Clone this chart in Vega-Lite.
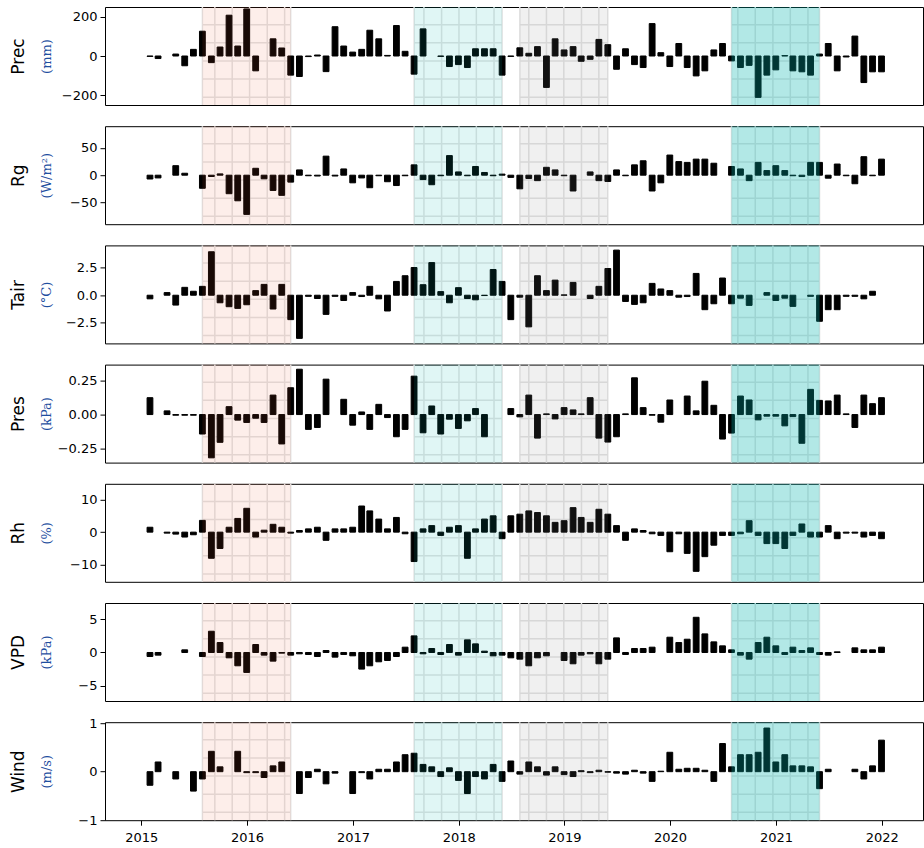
{
"$schema": "https://vega.github.io/schema/vega-lite/v6.json",
"padding": {"left": 8, "top": 5, "right": 0, "bottom": 0},
"spacing": 21.2,
"bounds": "flush",
"datasets": {
"regions": [
{"region": "A", "start": "2015-07-31", "end": "2016-05-31"},
{"region": "B", "start": "2017-07-31", "end": "2018-05-31"},
{"region": "C", "start": "2018-07-31", "end": "2019-05-31"},
{"region": "D", "start": "2020-07-31", "end": "2021-05-31"}
],
"hatchV": [
{"date": "2015-09-12"}, {"date": "2015-11-11"}, {"date": "2016-01-10"}, {"date": "2016-03-11"}, {"date": "2016-05-10"},
{"date": "2017-09-03"}, {"date": "2017-11-03"}, {"date": "2018-01-02"}, {"date": "2018-03-03"}, {"date": "2018-05-03"},
{"date": "2018-08-31"}, {"date": "2018-10-31"}, {"date": "2018-12-30"}, {"date": "2019-03-01"}, {"date": "2019-04-30"},
{"date": "2020-08-22"}, {"date": "2020-10-21"}, {"date": "2020-12-21"}, {"date": "2021-02-19"}, {"date": "2021-04-21"}
],
"hatchH": [
{"region": "A", "h": 0.08}, {"region": "A", "h": 0.265}, {"region": "A", "h": 0.45}, {"region": "A", "h": 0.635}, {"region": "A", "h": 0.82},
{"region": "B", "h": 0.08}, {"region": "B", "h": 0.265}, {"region": "B", "h": 0.45}, {"region": "B", "h": 0.635}, {"region": "B", "h": 0.82},
{"region": "C", "h": 0.08}, {"region": "C", "h": 0.265}, {"region": "C", "h": 0.45}, {"region": "C", "h": 0.635}, {"region": "C", "h": 0.82},
{"region": "D", "h": 0.08}, {"region": "D", "h": 0.265}, {"region": "D", "h": 0.45}, {"region": "D", "h": 0.635}, {"region": "D", "h": 0.82}
],
"Prec": [
{"date":"2015-01-31","value":-2},{"date":"2015-02-28","value":-13},{"date":"2015-04-30","value":10},{"date":"2015-05-31","value":-50},{"date":"2015-06-30","value":34},{"date":"2015-07-31","value":127},{"date":"2015-08-31","value":-34},{"date":"2015-09-30","value":46},{"date":"2015-10-31","value":209},{"date":"2015-11-30","value":51},{"date":"2015-12-31","value":241},
{"date":"2016-01-31","value":-76},{"date":"2016-03-31","value":88},{"date":"2016-04-30","value":41},{"date":"2016-05-31","value":-98},{"date":"2016-06-30","value":-105},{"date":"2016-07-31","value":-3},{"date":"2016-08-31","value":5},{"date":"2016-09-30","value":-80},{"date":"2016-10-31","value":150},{"date":"2016-11-30","value":51},{"date":"2016-12-31","value":20},
{"date":"2017-01-31","value":34},{"date":"2017-02-28","value":132},{"date":"2017-03-31","value":88},{"date":"2017-04-30","value":3},{"date":"2017-05-31","value":156},{"date":"2017-06-30","value":24},{"date":"2017-07-31","value":-93},{"date":"2017-08-31","value":139},{"date":"2017-10-31","value":-2},{"date":"2017-11-30","value":-54},{"date":"2017-12-31","value":-44},
{"date":"2018-01-31","value":-59},{"date":"2018-02-28","value":37},{"date":"2018-03-31","value":37},{"date":"2018-04-30","value":37},{"date":"2018-05-31","value":-98},{"date":"2018-06-30","value":-2},{"date":"2018-07-31","value":42},{"date":"2018-08-31","value":14},{"date":"2018-09-30","value":48},{"date":"2018-10-31","value":-161},{"date":"2018-11-30","value":88},{"date":"2018-12-31","value":31},
{"date":"2019-01-31","value":48},{"date":"2019-02-28","value":-27},{"date":"2019-03-31","value":-17},{"date":"2019-04-30","value":85},{"date":"2019-05-31","value":58},{"date":"2019-06-30","value":-68},{"date":"2019-07-31","value":37},{"date":"2019-08-31","value":-44},{"date":"2019-09-30","value":-59},{"date":"2019-10-31","value":166},{"date":"2019-11-30","value":17},{"date":"2019-12-31","value":-54},
{"date":"2020-01-31","value":64},{"date":"2020-02-29","value":-59},{"date":"2020-03-31","value":-102},{"date":"2020-04-30","value":-76},{"date":"2020-05-31","value":31},{"date":"2020-06-30","value":64},{"date":"2020-07-31","value":-25},{"date":"2020-08-31","value":-59},{"date":"2020-09-30","value":-48},{"date":"2020-10-31","value":-212},{"date":"2020-11-30","value":-98},{"date":"2020-12-31","value":-71},
{"date":"2021-01-31","value":2},{"date":"2021-02-28","value":-76},{"date":"2021-03-31","value":-81},{"date":"2021-04-30","value":-98},{"date":"2021-05-31","value":10},{"date":"2021-06-30","value":64},{"date":"2021-07-31","value":-76},{"date":"2021-08-31","value":-5},{"date":"2021-09-30","value":102},{"date":"2021-10-31","value":-136},{"date":"2021-11-30","value":-81},{"date":"2021-12-31","value":-81}
],
"Rg": [
{"date":"2015-01-31","value":-7},{"date":"2015-02-28","value":-5},{"date":"2015-04-30","value":17.5},{"date":"2015-05-31","value":3.6},{"date":"2015-07-31","value":-24},{"date":"2015-08-31","value":-2.4},{"date":"2015-09-30","value":2.4},{"date":"2015-10-31","value":-34},{"date":"2015-11-30","value":-47},{"date":"2015-12-31","value":-72},
{"date":"2016-01-31","value":12.7},{"date":"2016-02-29","value":-6.6},{"date":"2016-03-31","value":-28},{"date":"2016-04-30","value":-37},{"date":"2016-05-31","value":-12.7},{"date":"2016-06-30","value":9.7},{"date":"2016-07-31","value":-1},{"date":"2016-08-31","value":-1.5},{"date":"2016-09-30","value":35},{"date":"2016-10-31","value":-1.5},{"date":"2016-11-30","value":11.5},{"date":"2016-12-31","value":-14},
{"date":"2017-01-31","value":-5},{"date":"2017-02-28","value":-23},{"date":"2017-03-31","value":-1},{"date":"2017-04-30","value":-12},{"date":"2017-05-31","value":-19},{"date":"2017-06-30","value":-1},{"date":"2017-07-31","value":19},{"date":"2017-08-31","value":-8},{"date":"2017-09-30","value":-17.5},{"date":"2017-10-31","value":-1},{"date":"2017-11-30","value":36},{"date":"2017-12-31","value":6},
{"date":"2018-01-31","value":-1},{"date":"2018-02-28","value":16},{"date":"2018-03-31","value":5},{"date":"2018-04-30","value":-1},{"date":"2018-05-31","value":2},{"date":"2018-06-30","value":-4},{"date":"2018-07-31","value":-25},{"date":"2018-08-31","value":-6},{"date":"2018-09-30","value":-10},{"date":"2018-10-31","value":14.5},{"date":"2018-11-30","value":9.7},{"date":"2018-12-31","value":-1},
{"date":"2019-01-31","value":-29},{"date":"2019-03-31","value":6},{"date":"2019-04-30","value":-10},{"date":"2019-05-31","value":-11.5},{"date":"2019-06-30","value":9.7},{"date":"2019-07-31","value":-1},{"date":"2019-08-31","value":19},{"date":"2019-09-30","value":26.5},{"date":"2019-10-31","value":-29},{"date":"2019-11-30","value":-14},{"date":"2019-12-31","value":37},
{"date":"2020-01-31","value":25},{"date":"2020-02-29","value":23.5},{"date":"2020-03-31","value":29.5},{"date":"2020-04-30","value":29.5},{"date":"2020-05-31","value":22},{"date":"2020-07-31","value":16},{"date":"2020-08-31","value":11.5},{"date":"2020-09-30","value":-10},{"date":"2020-10-31","value":23.5},{"date":"2020-11-30","value":8.5},{"date":"2020-12-31","value":17.5},
{"date":"2021-01-31","value":8.5},{"date":"2021-02-28","value":-1},{"date":"2021-03-31","value":-2.5},{"date":"2021-04-30","value":23.5},{"date":"2021-05-31","value":23.5},{"date":"2021-06-30","value":-5.5},{"date":"2021-07-31","value":20.5},{"date":"2021-08-31","value":-1},{"date":"2021-09-30","value":-15.7},{"date":"2021-10-31","value":34},{"date":"2021-11-30","value":-1},{"date":"2021-12-31","value":29.5}
],
"Tair": [
{"date":"2015-01-31","value":-0.33},{"date":"2015-03-31","value":0.24},{"date":"2015-04-30","value":-0.9},{"date":"2015-05-31","value":0.72},{"date":"2015-06-30","value":0.36},{"date":"2015-07-31","value":0.81},{"date":"2015-08-31","value":3.97},{"date":"2015-09-30","value":-0.69},{"date":"2015-10-31","value":-1.05},{"date":"2015-11-30","value":-1.2},{"date":"2015-12-31","value":-0.87},
{"date":"2016-01-31","value":0.42},{"date":"2016-02-29","value":0.99},{"date":"2016-03-31","value":-1.26},{"date":"2016-04-30","value":0.99},{"date":"2016-05-31","value":-2.23},{"date":"2016-06-30","value":-3.94},{"date":"2016-07-31","value":-0.1},{"date":"2016-08-31","value":-0.3},{"date":"2016-09-30","value":-1.75},{"date":"2016-10-31","value":-0.1},{"date":"2016-11-30","value":-0.48},{"date":"2016-12-31","value":0.24},
{"date":"2017-01-31","value":-0.12},{"date":"2017-02-28","value":0.81},{"date":"2017-03-31","value":-0.33},{"date":"2017-04-30","value":-1.44},{"date":"2017-05-31","value":1.26},{"date":"2017-06-30","value":1.78},{"date":"2017-07-31","value":2.53},{"date":"2017-08-31","value":0.96},{"date":"2017-09-30","value":2.98},{"date":"2017-10-31","value":0.33},{"date":"2017-11-30","value":-0.69},{"date":"2017-12-31","value":0.69},
{"date":"2018-01-31","value":-0.3},{"date":"2018-02-28","value":-0.42},{"date":"2018-03-31","value":-0.03},{"date":"2018-04-30","value":2.35},{"date":"2018-05-31","value":1.26},{"date":"2018-06-30","value":-2.23},{"date":"2018-07-31","value":-0.18},{"date":"2018-08-31","value":-2.89},{"date":"2018-09-30","value":1.78},{"date":"2018-10-31","value":0.42},{"date":"2018-11-30","value":1.38},{"date":"2018-12-31","value":0.03},
{"date":"2019-01-31","value":1.17},{"date":"2019-03-31","value":-0.3},{"date":"2019-04-30","value":0.81},{"date":"2019-05-31","value":2.44},{"date":"2019-06-30","value":4.12},{"date":"2019-07-31","value":-0.57},{"date":"2019-08-31","value":-0.84},{"date":"2019-09-30","value":-0.69},{"date":"2019-10-31","value":1.08},{"date":"2019-11-30","value":0.57},{"date":"2019-12-31","value":0.42},
{"date":"2020-01-31","value":-0.18},{"date":"2020-02-29","value":-0.12},{"date":"2020-03-31","value":1.99},{"date":"2020-04-30","value":-1.32},{"date":"2020-05-31","value":-0.78},{"date":"2020-06-30","value":1.57},{"date":"2020-07-31","value":-0.78},{"date":"2020-08-31","value":-0.27},{"date":"2020-09-30","value":-0.93},{"date":"2020-11-30","value":0.24},{"date":"2020-12-31","value":-0.48},
{"date":"2021-01-31","value":-0.27},{"date":"2021-02-28","value":-1.02},{"date":"2021-04-30","value":-0.1},{"date":"2021-05-31","value":-2.38},{"date":"2021-06-30","value":-1.32},{"date":"2021-07-31","value":-1.32},{"date":"2021-08-31","value":-0.1},{"date":"2021-09-30","value":-0.1},{"date":"2021-10-31","value":-0.33},{"date":"2021-11-30","value":0.36}
],
"Pres": [
{"date":"2015-01-31","value":0.124},{"date":"2015-03-31","value":0.027},{"date":"2015-04-30","value":-0.005},{"date":"2015-05-31","value":-0.005},{"date":"2015-06-30","value":-0.005},{"date":"2015-07-31","value":-0.143},{"date":"2015-08-31","value":-0.318},{"date":"2015-09-30","value":-0.204},{"date":"2015-10-31","value":0.058},{"date":"2015-11-30","value":-0.041},{"date":"2015-12-31","value":-0.058},
{"date":"2016-01-31","value":-0.027},{"date":"2016-02-29","value":-0.058},{"date":"2016-03-31","value":0.143},{"date":"2016-04-30","value":-0.216},{"date":"2016-05-31","value":0.197},{"date":"2016-06-30","value":0.333},{"date":"2016-07-31","value":-0.109},{"date":"2016-08-31","value":-0.095},{"date":"2016-09-30","value":0.26},{"date":"2016-11-30","value":0.112},{"date":"2016-12-31","value":-0.078},
{"date":"2017-01-31","value":0.019},{"date":"2017-02-28","value":-0.109},{"date":"2017-03-31","value":0.075},{"date":"2017-04-30","value":-0.022},{"date":"2017-05-31","value":-0.163},{"date":"2017-06-30","value":-0.109},{"date":"2017-07-31","value":0.282},{"date":"2017-08-31","value":-0.134},{"date":"2017-09-30","value":0.063},{"date":"2017-10-31","value":-0.143},{"date":"2017-11-30","value":-0.034},{"date":"2017-12-31","value":-0.102},
{"date":"2018-01-31","value":-0.046},{"date":"2018-02-28","value":0.044},{"date":"2018-03-31","value":-0.163},{"date":"2018-06-30","value":0.044},{"date":"2018-07-31","value":-0.017},{"date":"2018-08-31","value":0.143},{"date":"2018-09-30","value":-0.173},{"date":"2018-10-31","value":0.005},{"date":"2018-11-30","value":-0.032},{"date":"2018-12-31","value":0.051},
{"date":"2019-01-31","value":0.034},{"date":"2019-02-28","value":0.005},{"date":"2019-03-31","value":0.124},{"date":"2019-04-30","value":-0.173},{"date":"2019-05-31","value":-0.202},{"date":"2019-06-30","value":-0.163},{"date":"2019-07-31","value":0.005},{"date":"2019-08-31","value":0.27},{"date":"2019-09-30","value":0.051},{"date":"2019-10-31","value":-0.005},{"date":"2019-11-30","value":-0.056},{"date":"2019-12-31","value":0.107},
{"date":"2020-02-29","value":0.136},{"date":"2020-03-31","value":0.027},{"date":"2020-04-30","value":0.245},{"date":"2020-05-31","value":0.068},{"date":"2020-06-30","value":-0.18},{"date":"2020-07-31","value":-0.136},{"date":"2020-08-31","value":0.136},{"date":"2020-09-30","value":0.107},{"date":"2020-10-31","value":-0.039},{"date":"2020-11-30","value":-0.012},{"date":"2020-12-31","value":-0.012},
{"date":"2021-01-31","value":-0.083},{"date":"2021-02-28","value":-0.015},{"date":"2021-03-31","value":-0.211},{"date":"2021-04-30","value":0.185},{"date":"2021-05-31","value":0.104},{"date":"2021-06-30","value":0.1},{"date":"2021-07-31","value":0.143},{"date":"2021-08-31","value":0.005},{"date":"2021-09-30","value":-0.095},{"date":"2021-10-31","value":0.143},{"date":"2021-11-30","value":0.08},{"date":"2021-12-31","value":0.124}
],
"Rh": [
{"date":"2015-01-31","value":1.5},{"date":"2015-03-31","value":-0.3},{"date":"2015-04-30","value":-0.6},{"date":"2015-05-31","value":-1.5},{"date":"2015-06-30","value":-0.8},{"date":"2015-07-31","value":3.6},{"date":"2015-08-31","value":-8},{"date":"2015-09-30","value":-5},{"date":"2015-10-31","value":1.5},{"date":"2015-11-30","value":4.2},{"date":"2015-12-31","value":7.3},
{"date":"2016-01-31","value":-1.5},{"date":"2016-02-29","value":0.6},{"date":"2016-03-31","value":2.4},{"date":"2016-04-30","value":1.5},{"date":"2016-05-31","value":-0.3},{"date":"2016-06-30","value":0.5},{"date":"2016-07-31","value":1},{"date":"2016-08-31","value":1.5},{"date":"2016-09-30","value":-2.5},{"date":"2016-10-31","value":1},{"date":"2016-11-30","value":1},{"date":"2016-12-31","value":1.5},
{"date":"2017-01-31","value":8},{"date":"2017-02-28","value":6.5},{"date":"2017-03-31","value":4},{"date":"2017-04-30","value":1},{"date":"2017-05-31","value":4.5},{"date":"2017-06-30","value":-0.5},{"date":"2017-07-31","value":-9},{"date":"2017-08-31","value":1},{"date":"2017-09-30","value":2},{"date":"2017-10-31","value":-1},{"date":"2017-11-30","value":1.5},{"date":"2017-12-31","value":2},
{"date":"2018-01-31","value":-8},{"date":"2018-02-28","value":1},{"date":"2018-03-31","value":4},{"date":"2018-04-30","value":5},{"date":"2018-05-31","value":-2},{"date":"2018-06-30","value":5},{"date":"2018-07-31","value":5.5},{"date":"2018-08-31","value":6.5},{"date":"2018-09-30","value":6},{"date":"2018-10-31","value":5},{"date":"2018-11-30","value":3},{"date":"2018-12-31","value":3.5},
{"date":"2019-01-31","value":7.5},{"date":"2019-02-28","value":4.5},{"date":"2019-03-31","value":3},{"date":"2019-04-30","value":7},{"date":"2019-05-31","value":5.5},{"date":"2019-06-30","value":2},{"date":"2019-07-31","value":-2.5},{"date":"2019-08-31","value":1},{"date":"2019-09-30","value":0.5},{"date":"2019-10-31","value":-0.5},{"date":"2019-11-30","value":-1},{"date":"2019-12-31","value":-6},
{"date":"2020-01-31","value":-0.5},{"date":"2020-02-29","value":-6.5},{"date":"2020-03-31","value":-12},{"date":"2020-04-30","value":-7.5},{"date":"2020-05-31","value":-4},{"date":"2020-06-30","value":-1},{"date":"2020-07-31","value":-1},{"date":"2020-08-31","value":-0.5},{"date":"2020-09-30","value":3.5},{"date":"2020-10-31","value":-1},{"date":"2020-11-30","value":-3.5},{"date":"2020-12-31","value":-3.5},
{"date":"2021-01-31","value":-5},{"date":"2021-02-28","value":-1},{"date":"2021-03-31","value":2.5},{"date":"2021-04-30","value":-1.5},{"date":"2021-05-31","value":-1.5},{"date":"2021-06-30","value":2},{"date":"2021-07-31","value":-2},{"date":"2021-08-31","value":-0.3},{"date":"2021-09-30","value":-0.3},{"date":"2021-10-31","value":-1.5},{"date":"2021-11-30","value":-1},{"date":"2021-12-31","value":-2}
],
"VPD": [
{"date":"2015-01-31","value":-0.6},{"date":"2015-02-28","value":-0.4},{"date":"2015-05-31","value":0.4},{"date":"2015-07-31","value":-0.6},{"date":"2015-08-31","value":3.2},{"date":"2015-09-30","value":1.5},{"date":"2015-10-31","value":-0.8},{"date":"2015-11-30","value":-2},{"date":"2015-12-31","value":-3},
{"date":"2016-01-31","value":1.2},{"date":"2016-02-29","value":-0.4},{"date":"2016-03-31","value":-1.3},{"date":"2016-04-30","value":-0.1},{"date":"2016-05-31","value":-0.4},{"date":"2016-06-30","value":-0.2},{"date":"2016-07-31","value":-0.3},{"date":"2016-08-31","value":-0.6},{"date":"2016-09-30","value":0.3},{"date":"2016-10-31","value":-0.7},{"date":"2016-11-30","value":-0.3},{"date":"2016-12-31","value":-0.5},
{"date":"2017-01-31","value":-2.5},{"date":"2017-02-28","value":-2},{"date":"2017-03-31","value":-1.4},{"date":"2017-04-30","value":-1.2},{"date":"2017-05-31","value":-0.6},{"date":"2017-06-30","value":0.8},{"date":"2017-07-31","value":2.5},{"date":"2017-08-31","value":-0.2},{"date":"2017-09-30","value":0.6},{"date":"2017-10-31","value":-0.3},{"date":"2017-11-30","value":1.2},{"date":"2017-12-31","value":-0.4},
{"date":"2018-01-31","value":1.9},{"date":"2018-02-28","value":1.3},{"date":"2018-03-31","value":0.2},{"date":"2018-04-30","value":-0.5},{"date":"2018-05-31","value":-0.4},{"date":"2018-06-30","value":-0.8},{"date":"2018-07-31","value":-1},{"date":"2018-08-31","value":-2},{"date":"2018-09-30","value":-0.8},{"date":"2018-10-31","value":-0.5},{"date":"2018-12-31","value":-1.2},
{"date":"2019-01-31","value":-1.7},{"date":"2019-02-28","value":-0.4},{"date":"2019-03-31","value":-0.2},{"date":"2019-04-30","value":-1.7},{"date":"2019-05-31","value":-1},{"date":"2019-06-30","value":2.2},{"date":"2019-07-31","value":-0.3},{"date":"2019-08-31","value":0.6},{"date":"2019-09-30","value":0.6},{"date":"2019-10-31","value":0.8},{"date":"2019-12-31","value":2.3},
{"date":"2020-01-31","value":1.5},{"date":"2020-02-29","value":2},{"date":"2020-03-31","value":5.3},{"date":"2020-04-30","value":2.8},{"date":"2020-05-31","value":1.6},{"date":"2020-06-30","value":1},{"date":"2020-07-31","value":0.4},{"date":"2020-08-31","value":-0.4},{"date":"2020-09-30","value":-1},{"date":"2020-10-31","value":1.5},{"date":"2020-11-30","value":2.3},{"date":"2020-12-31","value":1},
{"date":"2021-01-31","value":-0.3},{"date":"2021-02-28","value":0.8},{"date":"2021-03-31","value":0.3},{"date":"2021-04-30","value":0.7},{"date":"2021-05-31","value":-0.3},{"date":"2021-06-30","value":-0.4},{"date":"2021-07-31","value":0.1},{"date":"2021-09-30","value":0.7},{"date":"2021-10-31","value":0.4},{"date":"2021-11-30","value":0.4},{"date":"2021-12-31","value":0.8}
],
"Wind": [
{"date":"2015-01-31","value":-0.28},{"date":"2015-02-28","value":0.2},{"date":"2015-04-30","value":-0.15},{"date":"2015-06-30","value":-0.4},{"date":"2015-07-31","value":-0.15},{"date":"2015-08-31","value":0.42},{"date":"2015-09-30","value":0.1},{"date":"2015-11-30","value":0.42},{"date":"2015-12-31","value":-0.02},
{"date":"2016-01-31","value":-0.02},{"date":"2016-02-29","value":-0.12},{"date":"2016-03-31","value":0.12},{"date":"2016-04-30","value":0.2},{"date":"2016-06-30","value":-0.45},{"date":"2016-07-31","value":-0.12},{"date":"2016-08-31","value":0.05},{"date":"2016-09-30","value":-0.25},{"date":"2016-10-31","value":-0.03},{"date":"2016-12-31","value":-0.45},
{"date":"2017-01-31","value":-0.02},{"date":"2017-02-28","value":-0.15},{"date":"2017-03-31","value":0.05},{"date":"2017-04-30","value":0.05},{"date":"2017-05-31","value":0.2},{"date":"2017-06-30","value":0.35},{"date":"2017-07-31","value":0.38},{"date":"2017-08-31","value":0.15},{"date":"2017-09-30","value":0.1},{"date":"2017-10-31","value":-0.1},{"date":"2017-11-30","value":0.08},{"date":"2017-12-31","value":-0.18},
{"date":"2018-01-31","value":-0.45},{"date":"2018-02-28","value":-0.1},{"date":"2018-03-31","value":-0.15},{"date":"2018-04-30","value":0.15},{"date":"2018-05-31","value":-0.2},{"date":"2018-06-30","value":0.22},{"date":"2018-07-31","value":-0.05},{"date":"2018-08-31","value":0.2},{"date":"2018-09-30","value":0.1},{"date":"2018-10-31","value":-0.07},{"date":"2018-11-30","value":0.1},{"date":"2018-12-31","value":-0.06},
{"date":"2019-01-31","value":-0.1},{"date":"2019-02-28","value":0.02},{"date":"2019-03-31","value":-0.02},{"date":"2019-04-30","value":0.03},{"date":"2019-05-31","value":-0.01},{"date":"2019-06-30","value":-0.03},{"date":"2019-07-31","value":-0.05},{"date":"2019-08-31","value":0.03},{"date":"2019-09-30","value":-0.03},{"date":"2019-10-31","value":-0.2},{"date":"2019-11-30","value":0.01},{"date":"2019-12-31","value":0.4},
{"date":"2020-01-31","value":0.05},{"date":"2020-02-29","value":0.07},{"date":"2020-03-31","value":0.07},{"date":"2020-04-30","value":0.03},{"date":"2020-05-31","value":-0.2},{"date":"2020-06-30","value":0.58},{"date":"2020-07-31","value":0.1},{"date":"2020-08-31","value":0.35},{"date":"2020-09-30","value":0.35},{"date":"2020-10-31","value":0.4},{"date":"2020-11-30","value":0.9},{"date":"2020-12-31","value":0.2},
{"date":"2021-01-31","value":0.35},{"date":"2021-02-28","value":0.12},{"date":"2021-03-31","value":0.12},{"date":"2021-04-30","value":0.1},{"date":"2021-05-31","value":-0.35},{"date":"2021-06-30","value":0.05},{"date":"2021-09-30","value":0.05},{"date":"2021-10-31","value":-0.15},{"date":"2021-11-30","value":0.12},{"date":"2021-12-31","value":0.65}
]
},
"vconcat": [
{"width": 818, "height": 98, "resolve": {"scale": {"y": "independent"}},
"layer": [
{"data": {"name": "hatchV"}, "mark": {"type": "rule", "color": "#e3e3e3", "strokeWidth": 1.5}, "encoding": {"x": {"field": "date", "type": "temporal", "scale": {"domain": [{"year": 2014, "month": 9, "date": 15}, {"year": 2022, "month": 5, "date": 6}], "nice": false}, "axis": null}}},
{"data": {"name": "regions"}, "mark": {"type": "rule", "color": "#e3e3e3", "strokeWidth": 1.5}, "encoding": {"x": {"field": "start", "type": "temporal", "scale": {"domain": [{"year": 2014, "month": 9, "date": 15}, {"year": 2022, "month": 5, "date": 6}], "nice": false}, "axis": null}}},
{"data": {"name": "regions"}, "mark": {"type": "rule", "color": "#e3e3e3", "strokeWidth": 1.5}, "encoding": {"x": {"field": "end", "type": "temporal", "scale": {"domain": [{"year": 2014, "month": 9, "date": 15}, {"year": 2022, "month": 5, "date": 6}], "nice": false}, "axis": null}}},
{"data": {"name": "hatchH"}, "transform": [{"lookup": "region", "from": {"data": {"name": "regions"}, "key": "region", "fields": ["start", "end"]}}], "mark": {"type": "rule", "color": "#e3e3e3", "strokeWidth": 1.5}, "encoding": {"x": {"field": "start", "type": "temporal", "scale": {"domain": [{"year": 2014, "month": 9, "date": 15}, {"year": 2022, "month": 5, "date": 6}], "nice": false}, "axis": null}, "x2": {"field": "end"}, "y": {"field": "h", "type": "quantitative", "scale": {"domain": [0, 1], "nice": false}, "axis": {"orient": "left", "title": "Prec", "labels": false, "ticks": false, "domain": false, "titleFont": "DejaVu Sans", "titleFontSize": 17, "titleFontWeight": "normal", "titleColor": "#000", "titleX": -87, "titleY": 49, "titleAngle": -90, "titleAlign": "center", "titleBaseline": "middle"}}}},
{"data": {"name": "Prec"}, "mark": {"type": "bar", "size": 5.8, "color": "#000", "stroke": "#000", "strokeWidth": 1}, "encoding": {"x": {"field": "date", "type": "temporal", "scale": {"domain": [{"year": 2014, "month": 9, "date": 15}, {"year": 2022, "month": 5, "date": 6}], "nice": false}, "axis": null}, "y": {"field": "value", "type": "quantitative", "scale": {"domain": [-251, 251], "nice": false}, "axis": {"orient": "left", "values": [-200, 0, 200], "title": "(mm)", "titleFont": "DejaVu Serif", "titleFontSize": 13, "titleFontWeight": "normal", "titleColor": "#1f4f9f", "titleX": -59, "titleY": 49, "titleAngle": -90, "titleAlign": "center", "titleBaseline": "middle"}}}},
{"data": {"name": "regions"}, "mark": {"type": "rect"}, "encoding": {"x": {"field": "start", "type": "temporal", "scale": {"domain": [{"year": 2014, "month": 9, "date": 15}, {"year": 2022, "month": 5, "date": 6}], "nice": false}, "axis": null}, "x2": {"field": "end"}, "color": {"field": "region", "type": "nominal", "scale": {"domain": ["A", "B", "C", "D"], "range": ["rgba(235,85,45,0.1)", "rgba(0,180,173,0.12)", "rgba(128,128,128,0.12)", "rgba(0,180,173,0.3)"]}, "legend": null}}}
]},
{"width": 818, "height": 98, "resolve": {"scale": {"y": "independent"}},
"layer": [
{"data": {"name": "hatchV"}, "mark": {"type": "rule", "color": "#e3e3e3", "strokeWidth": 1.5}, "encoding": {"x": {"field": "date", "type": "temporal", "scale": {"domain": [{"year": 2014, "month": 9, "date": 15}, {"year": 2022, "month": 5, "date": 6}], "nice": false}, "axis": null}}},
{"data": {"name": "regions"}, "mark": {"type": "rule", "color": "#e3e3e3", "strokeWidth": 1.5}, "encoding": {"x": {"field": "start", "type": "temporal", "scale": {"domain": [{"year": 2014, "month": 9, "date": 15}, {"year": 2022, "month": 5, "date": 6}], "nice": false}, "axis": null}}},
{"data": {"name": "regions"}, "mark": {"type": "rule", "color": "#e3e3e3", "strokeWidth": 1.5}, "encoding": {"x": {"field": "end", "type": "temporal", "scale": {"domain": [{"year": 2014, "month": 9, "date": 15}, {"year": 2022, "month": 5, "date": 6}], "nice": false}, "axis": null}}},
{"data": {"name": "hatchH"}, "transform": [{"lookup": "region", "from": {"data": {"name": "regions"}, "key": "region", "fields": ["start", "end"]}}], "mark": {"type": "rule", "color": "#e3e3e3", "strokeWidth": 1.5}, "encoding": {"x": {"field": "start", "type": "temporal", "scale": {"domain": [{"year": 2014, "month": 9, "date": 15}, {"year": 2022, "month": 5, "date": 6}], "nice": false}, "axis": null}, "x2": {"field": "end"}, "y": {"field": "h", "type": "quantitative", "scale": {"domain": [0, 1], "nice": false}, "axis": {"orient": "left", "title": "Rg", "labels": false, "ticks": false, "domain": false, "titleFont": "DejaVu Sans", "titleFontSize": 17, "titleFontWeight": "normal", "titleColor": "#000", "titleX": -87, "titleY": 49, "titleAngle": -90, "titleAlign": "center", "titleBaseline": "middle"}}}},
{"data": {"name": "Rg"}, "mark": {"type": "bar", "size": 5.8, "color": "#000", "stroke": "#000", "strokeWidth": 1}, "encoding": {"x": {"field": "date", "type": "temporal", "scale": {"domain": [{"year": 2014, "month": 9, "date": 15}, {"year": 2022, "month": 5, "date": 6}], "nice": false}, "axis": null}, "y": {"field": "value", "type": "quantitative", "scale": {"domain": [-90, 90], "nice": false}, "axis": {"orient": "left", "values": [-50, 0, 50], "title": "(W/m²)", "titleFont": "DejaVu Serif", "titleFontSize": 13, "titleFontWeight": "normal", "titleColor": "#1f4f9f", "titleX": -59, "titleY": 49, "titleAngle": -90, "titleAlign": "center", "titleBaseline": "middle"}}}},
{"data": {"name": "regions"}, "mark": {"type": "rect"}, "encoding": {"x": {"field": "start", "type": "temporal", "scale": {"domain": [{"year": 2014, "month": 9, "date": 15}, {"year": 2022, "month": 5, "date": 6}], "nice": false}, "axis": null}, "x2": {"field": "end"}, "color": {"field": "region", "type": "nominal", "scale": {"domain": ["A", "B", "C", "D"], "range": ["rgba(235,85,45,0.1)", "rgba(0,180,173,0.12)", "rgba(128,128,128,0.12)", "rgba(0,180,173,0.3)"]}, "legend": null}}}
]},
{"width": 818, "height": 98, "resolve": {"scale": {"y": "independent"}},
"layer": [
{"data": {"name": "hatchV"}, "mark": {"type": "rule", "color": "#e3e3e3", "strokeWidth": 1.5}, "encoding": {"x": {"field": "date", "type": "temporal", "scale": {"domain": [{"year": 2014, "month": 9, "date": 15}, {"year": 2022, "month": 5, "date": 6}], "nice": false}, "axis": null}}},
{"data": {"name": "regions"}, "mark": {"type": "rule", "color": "#e3e3e3", "strokeWidth": 1.5}, "encoding": {"x": {"field": "start", "type": "temporal", "scale": {"domain": [{"year": 2014, "month": 9, "date": 15}, {"year": 2022, "month": 5, "date": 6}], "nice": false}, "axis": null}}},
{"data": {"name": "regions"}, "mark": {"type": "rule", "color": "#e3e3e3", "strokeWidth": 1.5}, "encoding": {"x": {"field": "end", "type": "temporal", "scale": {"domain": [{"year": 2014, "month": 9, "date": 15}, {"year": 2022, "month": 5, "date": 6}], "nice": false}, "axis": null}}},
{"data": {"name": "hatchH"}, "transform": [{"lookup": "region", "from": {"data": {"name": "regions"}, "key": "region", "fields": ["start", "end"]}}], "mark": {"type": "rule", "color": "#e3e3e3", "strokeWidth": 1.5}, "encoding": {"x": {"field": "start", "type": "temporal", "scale": {"domain": [{"year": 2014, "month": 9, "date": 15}, {"year": 2022, "month": 5, "date": 6}], "nice": false}, "axis": null}, "x2": {"field": "end"}, "y": {"field": "h", "type": "quantitative", "scale": {"domain": [0, 1], "nice": false}, "axis": {"orient": "left", "title": "Tair", "labels": false, "ticks": false, "domain": false, "titleFont": "DejaVu Sans", "titleFontSize": 17, "titleFontWeight": "normal", "titleColor": "#000", "titleX": -87, "titleY": 49, "titleAngle": -90, "titleAlign": "center", "titleBaseline": "middle"}}}},
{"data": {"name": "Tair"}, "mark": {"type": "bar", "size": 5.8, "color": "#000", "stroke": "#000", "strokeWidth": 1}, "encoding": {"x": {"field": "date", "type": "temporal", "scale": {"domain": [{"year": 2014, "month": 9, "date": 15}, {"year": 2022, "month": 5, "date": 6}], "nice": false}, "axis": null}, "y": {"field": "value", "type": "quantitative", "scale": {"domain": [-4.4, 4.55], "nice": false}, "axis": {"orient": "left", "values": [-2.5, 0, 2.5], "format": ".1f", "title": "(°C)", "titleFont": "DejaVu Serif", "titleFontSize": 13, "titleFontWeight": "normal", "titleColor": "#1f4f9f", "titleX": -59, "titleY": 49, "titleAngle": -90, "titleAlign": "center", "titleBaseline": "middle"}}}},
{"data": {"name": "regions"}, "mark": {"type": "rect"}, "encoding": {"x": {"field": "start", "type": "temporal", "scale": {"domain": [{"year": 2014, "month": 9, "date": 15}, {"year": 2022, "month": 5, "date": 6}], "nice": false}, "axis": null}, "x2": {"field": "end"}, "color": {"field": "region", "type": "nominal", "scale": {"domain": ["A", "B", "C", "D"], "range": ["rgba(235,85,45,0.1)", "rgba(0,180,173,0.12)", "rgba(128,128,128,0.12)", "rgba(0,180,173,0.3)"]}, "legend": null}}}
]},
{"width": 818, "height": 98, "resolve": {"scale": {"y": "independent"}},
"layer": [
{"data": {"name": "hatchV"}, "mark": {"type": "rule", "color": "#e3e3e3", "strokeWidth": 1.5}, "encoding": {"x": {"field": "date", "type": "temporal", "scale": {"domain": [{"year": 2014, "month": 9, "date": 15}, {"year": 2022, "month": 5, "date": 6}], "nice": false}, "axis": null}}},
{"data": {"name": "regions"}, "mark": {"type": "rule", "color": "#e3e3e3", "strokeWidth": 1.5}, "encoding": {"x": {"field": "start", "type": "temporal", "scale": {"domain": [{"year": 2014, "month": 9, "date": 15}, {"year": 2022, "month": 5, "date": 6}], "nice": false}, "axis": null}}},
{"data": {"name": "regions"}, "mark": {"type": "rule", "color": "#e3e3e3", "strokeWidth": 1.5}, "encoding": {"x": {"field": "end", "type": "temporal", "scale": {"domain": [{"year": 2014, "month": 9, "date": 15}, {"year": 2022, "month": 5, "date": 6}], "nice": false}, "axis": null}}},
{"data": {"name": "hatchH"}, "transform": [{"lookup": "region", "from": {"data": {"name": "regions"}, "key": "region", "fields": ["start", "end"]}}], "mark": {"type": "rule", "color": "#e3e3e3", "strokeWidth": 1.5}, "encoding": {"x": {"field": "start", "type": "temporal", "scale": {"domain": [{"year": 2014, "month": 9, "date": 15}, {"year": 2022, "month": 5, "date": 6}], "nice": false}, "axis": null}, "x2": {"field": "end"}, "y": {"field": "h", "type": "quantitative", "scale": {"domain": [0, 1], "nice": false}, "axis": {"orient": "left", "title": "Pres", "labels": false, "ticks": false, "domain": false, "titleFont": "DejaVu Sans", "titleFontSize": 17, "titleFontWeight": "normal", "titleColor": "#000", "titleX": -87, "titleY": 49, "titleAngle": -90, "titleAlign": "center", "titleBaseline": "middle"}}}},
{"data": {"name": "Pres"}, "mark": {"type": "bar", "size": 5.8, "color": "#000", "stroke": "#000", "strokeWidth": 1}, "encoding": {"x": {"field": "date", "type": "temporal", "scale": {"domain": [{"year": 2014, "month": 9, "date": 15}, {"year": 2022, "month": 5, "date": 6}], "nice": false}, "axis": null}, "y": {"field": "value", "type": "quantitative", "scale": {"domain": [-0.353, 0.367], "nice": false}, "axis": {"orient": "left", "values": [-0.25, 0, 0.25], "format": ".2f", "title": "(kPa)", "titleFont": "DejaVu Serif", "titleFontSize": 13, "titleFontWeight": "normal", "titleColor": "#1f4f9f", "titleX": -59, "titleY": 49, "titleAngle": -90, "titleAlign": "center", "titleBaseline": "middle"}}}},
{"data": {"name": "regions"}, "mark": {"type": "rect"}, "encoding": {"x": {"field": "start", "type": "temporal", "scale": {"domain": [{"year": 2014, "month": 9, "date": 15}, {"year": 2022, "month": 5, "date": 6}], "nice": false}, "axis": null}, "x2": {"field": "end"}, "color": {"field": "region", "type": "nominal", "scale": {"domain": ["A", "B", "C", "D"], "range": ["rgba(235,85,45,0.1)", "rgba(0,180,173,0.12)", "rgba(128,128,128,0.12)", "rgba(0,180,173,0.3)"]}, "legend": null}}}
]},
{"width": 818, "height": 98, "resolve": {"scale": {"y": "independent"}},
"layer": [
{"data": {"name": "hatchV"}, "mark": {"type": "rule", "color": "#e3e3e3", "strokeWidth": 1.5}, "encoding": {"x": {"field": "date", "type": "temporal", "scale": {"domain": [{"year": 2014, "month": 9, "date": 15}, {"year": 2022, "month": 5, "date": 6}], "nice": false}, "axis": null}}},
{"data": {"name": "regions"}, "mark": {"type": "rule", "color": "#e3e3e3", "strokeWidth": 1.5}, "encoding": {"x": {"field": "start", "type": "temporal", "scale": {"domain": [{"year": 2014, "month": 9, "date": 15}, {"year": 2022, "month": 5, "date": 6}], "nice": false}, "axis": null}}},
{"data": {"name": "regions"}, "mark": {"type": "rule", "color": "#e3e3e3", "strokeWidth": 1.5}, "encoding": {"x": {"field": "end", "type": "temporal", "scale": {"domain": [{"year": 2014, "month": 9, "date": 15}, {"year": 2022, "month": 5, "date": 6}], "nice": false}, "axis": null}}},
{"data": {"name": "hatchH"}, "transform": [{"lookup": "region", "from": {"data": {"name": "regions"}, "key": "region", "fields": ["start", "end"]}}], "mark": {"type": "rule", "color": "#e3e3e3", "strokeWidth": 1.5}, "encoding": {"x": {"field": "start", "type": "temporal", "scale": {"domain": [{"year": 2014, "month": 9, "date": 15}, {"year": 2022, "month": 5, "date": 6}], "nice": false}, "axis": null}, "x2": {"field": "end"}, "y": {"field": "h", "type": "quantitative", "scale": {"domain": [0, 1], "nice": false}, "axis": {"orient": "left", "title": "Rh", "labels": false, "ticks": false, "domain": false, "titleFont": "DejaVu Sans", "titleFontSize": 17, "titleFontWeight": "normal", "titleColor": "#000", "titleX": -87, "titleY": 49, "titleAngle": -90, "titleAlign": "center", "titleBaseline": "middle"}}}},
{"data": {"name": "Rh"}, "mark": {"type": "bar", "size": 5.8, "color": "#000", "stroke": "#000", "strokeWidth": 1}, "encoding": {"x": {"field": "date", "type": "temporal", "scale": {"domain": [{"year": 2014, "month": 9, "date": 15}, {"year": 2022, "month": 5, "date": 6}], "nice": false}, "axis": null}, "y": {"field": "value", "type": "quantitative", "scale": {"domain": [-15.2, 14.8], "nice": false}, "axis": {"orient": "left", "values": [-10, 0, 10], "title": "(%)", "titleFont": "DejaVu Serif", "titleFontSize": 13, "titleFontWeight": "normal", "titleColor": "#1f4f9f", "titleX": -59, "titleY": 49, "titleAngle": -90, "titleAlign": "center", "titleBaseline": "middle"}}}},
{"data": {"name": "regions"}, "mark": {"type": "rect"}, "encoding": {"x": {"field": "start", "type": "temporal", "scale": {"domain": [{"year": 2014, "month": 9, "date": 15}, {"year": 2022, "month": 5, "date": 6}], "nice": false}, "axis": null}, "x2": {"field": "end"}, "color": {"field": "region", "type": "nominal", "scale": {"domain": ["A", "B", "C", "D"], "range": ["rgba(235,85,45,0.1)", "rgba(0,180,173,0.12)", "rgba(128,128,128,0.12)", "rgba(0,180,173,0.3)"]}, "legend": null}}}
]},
{"width": 818, "height": 98, "resolve": {"scale": {"y": "independent"}},
"layer": [
{"data": {"name": "hatchV"}, "mark": {"type": "rule", "color": "#e3e3e3", "strokeWidth": 1.5}, "encoding": {"x": {"field": "date", "type": "temporal", "scale": {"domain": [{"year": 2014, "month": 9, "date": 15}, {"year": 2022, "month": 5, "date": 6}], "nice": false}, "axis": null}}},
{"data": {"name": "regions"}, "mark": {"type": "rule", "color": "#e3e3e3", "strokeWidth": 1.5}, "encoding": {"x": {"field": "start", "type": "temporal", "scale": {"domain": [{"year": 2014, "month": 9, "date": 15}, {"year": 2022, "month": 5, "date": 6}], "nice": false}, "axis": null}}},
{"data": {"name": "regions"}, "mark": {"type": "rule", "color": "#e3e3e3", "strokeWidth": 1.5}, "encoding": {"x": {"field": "end", "type": "temporal", "scale": {"domain": [{"year": 2014, "month": 9, "date": 15}, {"year": 2022, "month": 5, "date": 6}], "nice": false}, "axis": null}}},
{"data": {"name": "hatchH"}, "transform": [{"lookup": "region", "from": {"data": {"name": "regions"}, "key": "region", "fields": ["start", "end"]}}], "mark": {"type": "rule", "color": "#e3e3e3", "strokeWidth": 1.5}, "encoding": {"x": {"field": "start", "type": "temporal", "scale": {"domain": [{"year": 2014, "month": 9, "date": 15}, {"year": 2022, "month": 5, "date": 6}], "nice": false}, "axis": null}, "x2": {"field": "end"}, "y": {"field": "h", "type": "quantitative", "scale": {"domain": [0, 1], "nice": false}, "axis": {"orient": "left", "title": "VPD", "labels": false, "ticks": false, "domain": false, "titleFont": "DejaVu Sans", "titleFontSize": 17, "titleFontWeight": "normal", "titleColor": "#000", "titleX": -87, "titleY": 49, "titleAngle": -90, "titleAlign": "center", "titleBaseline": "middle"}}}},
{"data": {"name": "VPD"}, "mark": {"type": "bar", "size": 5.8, "color": "#000", "stroke": "#000", "strokeWidth": 1}, "encoding": {"x": {"field": "date", "type": "temporal", "scale": {"domain": [{"year": 2014, "month": 9, "date": 15}, {"year": 2022, "month": 5, "date": 6}], "nice": false}, "axis": null}, "y": {"field": "value", "type": "quantitative", "scale": {"domain": [-7.3, 7.45], "nice": false}, "axis": {"orient": "left", "values": [-5, 0, 5], "title": "(kPa)", "titleFont": "DejaVu Serif", "titleFontSize": 13, "titleFontWeight": "normal", "titleColor": "#1f4f9f", "titleX": -59, "titleY": 49, "titleAngle": -90, "titleAlign": "center", "titleBaseline": "middle"}}}},
{"data": {"name": "regions"}, "mark": {"type": "rect"}, "encoding": {"x": {"field": "start", "type": "temporal", "scale": {"domain": [{"year": 2014, "month": 9, "date": 15}, {"year": 2022, "month": 5, "date": 6}], "nice": false}, "axis": null}, "x2": {"field": "end"}, "color": {"field": "region", "type": "nominal", "scale": {"domain": ["A", "B", "C", "D"], "range": ["rgba(235,85,45,0.1)", "rgba(0,180,173,0.12)", "rgba(128,128,128,0.12)", "rgba(0,180,173,0.3)"]}, "legend": null}}}
]},
{"width": 818, "height": 98, "resolve": {"scale": {"y": "independent"}},
"layer": [
{"data": {"name": "hatchV"}, "mark": {"type": "rule", "color": "#e3e3e3", "strokeWidth": 1.5}, "encoding": {"x": {"field": "date", "type": "temporal", "scale": {"domain": [{"year": 2014, "month": 9, "date": 15}, {"year": 2022, "month": 5, "date": 6}], "nice": false}, "axis": {"values": [{"year": 2015, "month": 1, "date": 1}, {"year": 2016, "month": 1, "date": 1}, {"year": 2017, "month": 1, "date": 1}, {"year": 2018, "month": 1, "date": 1}, {"year": 2019, "month": 1, "date": 1}, {"year": 2020, "month": 1, "date": 1}, {"year": 2021, "month": 1, "date": 1}, {"year": 2022, "month": 1, "date": 1}], "format": "%Y", "title": null, "labelPadding": 6, "labelFlush": false}}}},
{"data": {"name": "regions"}, "mark": {"type": "rule", "color": "#e3e3e3", "strokeWidth": 1.5}, "encoding": {"x": {"field": "start", "type": "temporal", "scale": {"domain": [{"year": 2014, "month": 9, "date": 15}, {"year": 2022, "month": 5, "date": 6}], "nice": false}, "axis": {"values": [{"year": 2015, "month": 1, "date": 1}, {"year": 2016, "month": 1, "date": 1}, {"year": 2017, "month": 1, "date": 1}, {"year": 2018, "month": 1, "date": 1}, {"year": 2019, "month": 1, "date": 1}, {"year": 2020, "month": 1, "date": 1}, {"year": 2021, "month": 1, "date": 1}, {"year": 2022, "month": 1, "date": 1}], "format": "%Y", "title": null, "labelPadding": 6, "labelFlush": false}}}},
{"data": {"name": "regions"}, "mark": {"type": "rule", "color": "#e3e3e3", "strokeWidth": 1.5}, "encoding": {"x": {"field": "end", "type": "temporal", "scale": {"domain": [{"year": 2014, "month": 9, "date": 15}, {"year": 2022, "month": 5, "date": 6}], "nice": false}, "axis": {"values": [{"year": 2015, "month": 1, "date": 1}, {"year": 2016, "month": 1, "date": 1}, {"year": 2017, "month": 1, "date": 1}, {"year": 2018, "month": 1, "date": 1}, {"year": 2019, "month": 1, "date": 1}, {"year": 2020, "month": 1, "date": 1}, {"year": 2021, "month": 1, "date": 1}, {"year": 2022, "month": 1, "date": 1}], "format": "%Y", "title": null, "labelPadding": 6, "labelFlush": false}}}},
{"data": {"name": "hatchH"}, "transform": [{"lookup": "region", "from": {"data": {"name": "regions"}, "key": "region", "fields": ["start", "end"]}}], "mark": {"type": "rule", "color": "#e3e3e3", "strokeWidth": 1.5}, "encoding": {"x": {"field": "start", "type": "temporal", "scale": {"domain": [{"year": 2014, "month": 9, "date": 15}, {"year": 2022, "month": 5, "date": 6}], "nice": false}, "axis": {"values": [{"year": 2015, "month": 1, "date": 1}, {"year": 2016, "month": 1, "date": 1}, {"year": 2017, "month": 1, "date": 1}, {"year": 2018, "month": 1, "date": 1}, {"year": 2019, "month": 1, "date": 1}, {"year": 2020, "month": 1, "date": 1}, {"year": 2021, "month": 1, "date": 1}, {"year": 2022, "month": 1, "date": 1}], "format": "%Y", "title": null, "labelPadding": 6, "labelFlush": false}}, "x2": {"field": "end"}, "y": {"field": "h", "type": "quantitative", "scale": {"domain": [0, 1], "nice": false}, "axis": {"orient": "left", "title": "Wind", "labels": false, "ticks": false, "domain": false, "titleFont": "DejaVu Sans", "titleFontSize": 17, "titleFontWeight": "normal", "titleColor": "#000", "titleX": -87, "titleY": 49, "titleAngle": -90, "titleAlign": "center", "titleBaseline": "middle"}}}},
{"data": {"name": "Wind"}, "mark": {"type": "bar", "size": 5.8, "color": "#000", "stroke": "#000", "strokeWidth": 1}, "encoding": {"x": {"field": "date", "type": "temporal", "scale": {"domain": [{"year": 2014, "month": 9, "date": 15}, {"year": 2022, "month": 5, "date": 6}], "nice": false}, "axis": {"values": [{"year": 2015, "month": 1, "date": 1}, {"year": 2016, "month": 1, "date": 1}, {"year": 2017, "month": 1, "date": 1}, {"year": 2018, "month": 1, "date": 1}, {"year": 2019, "month": 1, "date": 1}, {"year": 2020, "month": 1, "date": 1}, {"year": 2021, "month": 1, "date": 1}, {"year": 2022, "month": 1, "date": 1}], "format": "%Y", "title": null, "labelPadding": 6, "labelFlush": false}}, "y": {"field": "value", "type": "quantitative", "scale": {"domain": [-1, 1.02], "nice": false}, "axis": {"orient": "left", "values": [-1, 0, 1], "format": ".0f", "title": "(m/s)", "titleFont": "DejaVu Serif", "titleFontSize": 13, "titleFontWeight": "normal", "titleColor": "#1f4f9f", "titleX": -59, "titleY": 49, "titleAngle": -90, "titleAlign": "center", "titleBaseline": "middle"}}}},
{"data": {"name": "regions"}, "mark": {"type": "rect"}, "encoding": {"x": {"field": "start", "type": "temporal", "scale": {"domain": [{"year": 2014, "month": 9, "date": 15}, {"year": 2022, "month": 5, "date": 6}], "nice": false}, "axis": {"values": [{"year": 2015, "month": 1, "date": 1}, {"year": 2016, "month": 1, "date": 1}, {"year": 2017, "month": 1, "date": 1}, {"year": 2018, "month": 1, "date": 1}, {"year": 2019, "month": 1, "date": 1}, {"year": 2020, "month": 1, "date": 1}, {"year": 2021, "month": 1, "date": 1}, {"year": 2022, "month": 1, "date": 1}], "format": "%Y", "title": null, "labelPadding": 6, "labelFlush": false}}, "x2": {"field": "end"}, "color": {"field": "region", "type": "nominal", "scale": {"domain": ["A", "B", "C", "D"], "range": ["rgba(235,85,45,0.1)", "rgba(0,180,173,0.12)", "rgba(128,128,128,0.12)", "rgba(0,180,173,0.3)"]}, "legend": null}}}
]}
],
"config": {
"view": {"stroke": "#000", "strokeWidth": 1},
"axis": {"grid": false, "domain": false, "labelFont": "DejaVu Sans", "labelFontSize": 13, "labelColor": "#000", "tickColor": "#000", "tickSize": 5, "tickWidth": 1, "labelPadding": 3},
"font": "DejaVu Sans"
}
}
